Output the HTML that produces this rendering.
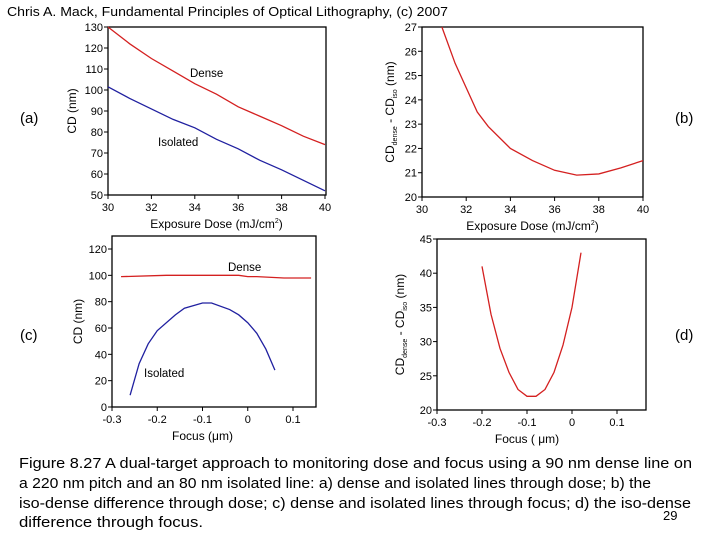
<!DOCTYPE html>
<html><head><meta charset="utf-8"><style>
html,body{margin:0;padding:0;background:#fff;}
svg{display:block;font-family:"Liberation Sans",sans-serif;}
</style></head><body>
<svg id="s" width="720" height="540" viewBox="0 0 720 540" xmlns="http://www.w3.org/2000/svg">
<text x="7" y="16" font-size="13" textLength="441" lengthAdjust="spacingAndGlyphs">Chris A. Mack, Fundamental Principles of Optical Lithography, (c) 2007</text>
<text x="20" y="123" font-size="15">(a)</text>
<text x="675" y="123" font-size="15">(b)</text>
<text x="20" y="340" font-size="15">(c)</text>
<text x="675" y="340" font-size="15">(d)</text>
<g font-size="15">
<text x="19" y="468" textLength="673" lengthAdjust="spacingAndGlyphs">Figure 8.27  A dual-target approach to monitoring dose and focus using a 90 nm dense line on</text>
<text x="19" y="488" textLength="632" lengthAdjust="spacingAndGlyphs">a 220 nm pitch and an 80 nm isolated line:  a) dense and isolated lines through dose; b) the</text>
<text x="19" y="508" textLength="672" lengthAdjust="spacingAndGlyphs">iso-dense difference through dose; c) dense and isolated lines through focus; d) the iso-dense</text>
<text x="19" y="527" textLength="184" lengthAdjust="spacingAndGlyphs">difference through focus.</text>
</g>
<text x="663" y="520" font-size="13">29</text>
</svg>
<script>
// Panel a
const aDose=[30,31,32,33,34,35,36,37,38,39,40];
const aDense=[130,122,115,109,103,98,92,87.5,83,78,74];
const aIso=[101.5,96,91,86,82,76.5,72,66.5,62,57,52];
const aXTicks=[30,32,34,36,38,40];
const aYTicks=[50,60,70,80,90,100,110,120,130];
// Panel b
const bDose=[30.9,31.5,32,32.5,33,34,35,36,37,38,39,40];
const bDiff=[27,25.5,24.5,23.5,22.9,22,21.5,21.1,20.9,20.95,21.2,21.5];
const bXTicks=[30,32,34,36,38,40];
const bYTicks=[20,21,22,23,24,25,26,27];
// Panel c
const cDenseFocus=[-0.28,-0.18,-0.02,0,0.02,0.08,0.14];
const cDense=[99,100,100,99,99,98,98];
const cIsoFocus=[-0.26,-0.24,-0.22,-0.2,-0.16,-0.14,-0.1,-0.08,-0.04,-0.02,0,0.02,0.04,0.06];
const cIso=[9,33,48,58,70,75,79,79,74,70,64,56,44,28];
const cXTicks=[-0.3,-0.2,-0.1,0,0.1];
const cYTicks=[0,20,40,60,80,100,120];
// Panel d
const dFocus=[-0.2,-0.18,-0.16,-0.14,-0.12,-0.1,-0.08,-0.06,-0.04,-0.02,0,0.02];
const dDiff=[41,34,29,25.5,23,22,22,23,25.5,29.5,35,43];
const dXTicks=[-0.3,-0.2,-0.1,0,0.1];
const dYTicks=[20,25,30,35,40,45];

const NS='http://www.w3.org/2000/svg';
const svg=document.getElementById('s');
function mk(tag,attrs,parent){const e=document.createElementNS(NS,tag);for(const k in attrs)e.setAttribute(k,attrs[k]);(parent||svg).appendChild(e);return e;}
function lin(d0,d1,r0,r1){return v=>r0+(v-d0)/(d1-d0)*(r1-r0);}
function fmt(v){return Math.abs(v)<1e-9?'0':(Math.round(v*10)/10).toString();}

function panel(cfg){
  const g=mk('g',{});
  
  
  const sx=lin(cfg.xd[0],cfg.xd[1],cfg.x0,cfg.x1);
  const sy=lin(cfg.yd[0],cfg.yd[1],cfg.y0,cfg.y1);
  const box=mk('rect',{x:cfg.bx0,y:cfg.by0,width:cfg.bx1-cfg.bx0,height:cfg.by1-cfg.by0,fill:'none',stroke:'#000','stroke-width':1.3},g);
  
  
  cfg.xt.forEach(v=>{
    const x=sx(v);
    mk('line',{x1:x,x2:x,y1:cfg.by1,y2:cfg.by1+4,stroke:'#000'},g);
    const t=mk('text',{x:x,y:cfg.by1+16,'font-size':11,'text-anchor':'middle'},g);
    t.textContent=fmt(v);
    
    
  });
  cfg.yt.forEach(v=>{
    const y=sy(v);
    mk('line',{x1:cfg.bx0-4,x2:cfg.bx0,y1:y,y2:y,stroke:'#000'},g);
    const t=mk('text',{x:cfg.bx0-5,y:y+4,'font-size':11,'text-anchor':'end'},g);
    t.textContent=fmt(v);
    
    
  });
  const xt=mk('text',{x:(cfg.x0+cfg.x1)/2,y:cfg.by1+33,'font-size':12,'text-anchor':'middle'},g);
  xt.innerHTML=cfg.xtitle;
  
  
  const yc=(cfg.by0+cfg.by1)/2;
  const yt=mk('text',{x:cfg.ytx,y:yc,'font-size':12,'text-anchor':'middle',transform:`rotate(-90 ${cfg.ytx} ${yc})`},g);
  yt.innerHTML=cfg.ytitle;
  
  
  cfg.series.forEach(s=>{
    const p=mk('polyline',{points:s.x.map((v,i)=>sx(v)+','+sy(s.y[i])).join(' '),fill:'none',stroke:s.color,'stroke-width':1.3},g);
    
    
  });
  (cfg.labels||[]).forEach(l=>{
    const t=mk('text',{x:l.x,y:l.y,'font-size':11.5},g);
    t.textContent=l.t;
    
    
  });
}
const cdLabel='CD<tspan font-size="7" dy="3">dense</tspan><tspan dy="-3"> - CD</tspan><tspan font-size="7" dy="3">iso</tspan><tspan dy="-3"> (nm)</tspan>';
panel({name:'chart-a',xd:[30,40],yd:[50,130],x0:108,x1:325,y0:195,y1:27,bx0:108,bx1:326,by0:27,by1:195,
  xt:aXTicks,yt:aYTicks,xtitle:'Exposure Dose (mJ/cm<tspan font-size="7" dy="-5">2</tspan><tspan dy="5">)</tspan>',ytitle:'CD (nm)',ytx:76,
  series:[{x:aDose,y:aDense,color:'#d42020',name:'dense-line'},{x:aDose,y:aIso,color:'#2020a0',name:'isolated-line'}],
  labels:[{x:190,y:77,t:'Dense',n:'dense-label'},{x:158,y:146,t:'Isolated',n:'isolated-label'}]});
panel({name:'chart-b',xd:[30,40],yd:[20,27],x0:422,x1:643,y0:197,y1:27,bx0:422,bx1:643,by0:27,by1:197,
  xt:bXTicks,yt:bYTicks,xtitle:'Exposure Dose (mJ/cm<tspan font-size="7" dy="-5">2</tspan><tspan dy="5">)</tspan>',ytitle:cdLabel,ytx:394,
  series:[{x:bDose,y:bDiff,color:'#d42020',name:'difference-line'}]});
panel({name:'chart-c',xd:[-0.3,0.1],yd:[0,120],x0:112,x1:293,y0:407,y1:249,bx0:112,bx1:316,by0:236,by1:407,
  xt:cXTicks,yt:cYTicks,xtitle:'Focus (&#956;m)',ytitle:'CD (nm)',ytx:82,
  series:[{x:cDenseFocus,y:cDense,color:'#d42020',name:'dense-line'},{x:cIsoFocus,y:cIso,color:'#2020a0',name:'isolated-line'}],
  labels:[{x:228,y:271,t:'Dense',n:'dense-label'},{x:144,y:377,t:'Isolated',n:'isolated-label'}]});
panel({name:'chart-d',xd:[-0.3,0.1],yd:[20,45],x0:437,x1:617,y0:410,y1:239,bx0:437,bx1:646,by0:239,by1:410,
  xt:dXTicks,yt:dYTicks,xtitle:'Focus ( &#956;m)',ytitle:cdLabel,ytx:404,
  series:[{x:dFocus,y:dDiff,color:'#d42020',name:'difference-line'}]});
</script>
</body></html>
